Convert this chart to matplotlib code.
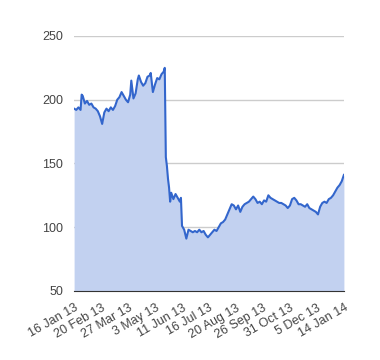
import matplotlib
matplotlib.use('Agg')
import matplotlib.pyplot as plt

# trading-day index (0 = 16 Jan 13) and closing value
days = [0, 2, 4, 6, 7, 8, 10, 12, 14, 16, 18, 20, 22, 24, 26, 28, 30, 32, 34, 36,
        38, 40, 42, 44, 46, 48, 50, 52, 53, 55, 57, 59, 60, 62, 64, 66, 68, 70, 71, 73,
        75, 77, 79, 81, 83, 84, 85, 86, 87, 88, 89, 90, 92, 94, 96, 98, 99, 100, 102, 104,
        106, 108, 110, 112, 114, 116, 118, 120, 122, 124, 126, 128, 130, 132, 134, 136, 138, 140, 142, 144,
        146, 148, 150, 152, 154, 156, 158, 160, 162, 164, 166, 168, 170, 172, 174, 176, 178, 180, 182, 184,
        186, 188, 190, 192, 194, 196, 198, 200, 202, 204, 206, 208, 210, 212, 214, 216, 218, 220, 222, 224,
        226, 228, 230, 232, 234, 236, 238, 240, 242, 244, 246, 248, 250]
values = [193, 192, 194, 192, 204, 203, 197, 199, 196, 197, 194, 193, 191, 187, 181, 190, 193, 191, 194, 192,
          195, 200, 202, 206, 203, 200, 198, 204, 215, 201, 205, 216, 219, 214, 211, 213, 218, 219, 221, 206,
          212, 217, 216, 220, 222, 225, 155, 148, 138, 131, 120, 127, 122, 126, 123, 120, 123, 101, 98, 91,
          98, 97, 96, 97, 96, 98, 96, 97, 94, 92, 94, 96, 98, 97, 100, 103, 104, 106, 110, 114,
          118, 117, 114, 117, 112, 116, 118, 119, 120, 122, 124, 122, 119, 120, 118, 121, 120, 125, 123, 122,
          121, 120, 119, 119, 118, 117, 115, 117, 122, 123, 121, 118, 118, 117, 116, 118, 115, 114, 113, 112,
          110, 116, 119, 120, 119, 122, 123, 125, 128, 131, 133, 136, 141]

tick_days = [0, 25, 50, 75, 100, 125, 150, 175, 200, 225, 250]
tick_labels = ['16 Jan 13', '20 Feb 13', '27 Mar 13', '3 May 13', '11 Jun 13', '16 Jul 13',
               '20 Aug 13', '26 Sep 13', '31 Oct 13', '5 Dec 13', '14 Jan 14']
y_ticks = [50, 100, 150, 200, 250]

plt.rcParams['font.family'] = ['Liberation Sans', 'DejaVu Sans']

fig = plt.figure(figsize=(3.8, 3.6), dpi=100)
ax = fig.add_axes([0.195, 0.192, 0.71, 0.708])

ax.fill_between(days, values, 50, color='#c2d1f0', linewidth=0)
ax.plot(days, values, color='#3366cc', linewidth=1.5)

ax.set_xlim(0, 250)
ax.set_ylim(50, 250)
ax.set_yticks(y_ticks)
ax.set_xticks(tick_days)
ax.set_xticklabels(tick_labels, rotation=30, ha='right', rotation_mode='anchor')
ax.tick_params(axis='both', length=0, labelsize=9, labelcolor='#444444')
ax.tick_params(axis='x', pad=8)
ax.tick_params(axis='y', pad=8)

ax.grid(axis='y', color='#cccccc', linewidth=1)
ax.set_axisbelow(True)
for s in ['top', 'right', 'left']:
    ax.spines[s].set_visible(False)
ax.spines['bottom'].set_color('#333333')

fig.savefig('out.png', dpi=100)
